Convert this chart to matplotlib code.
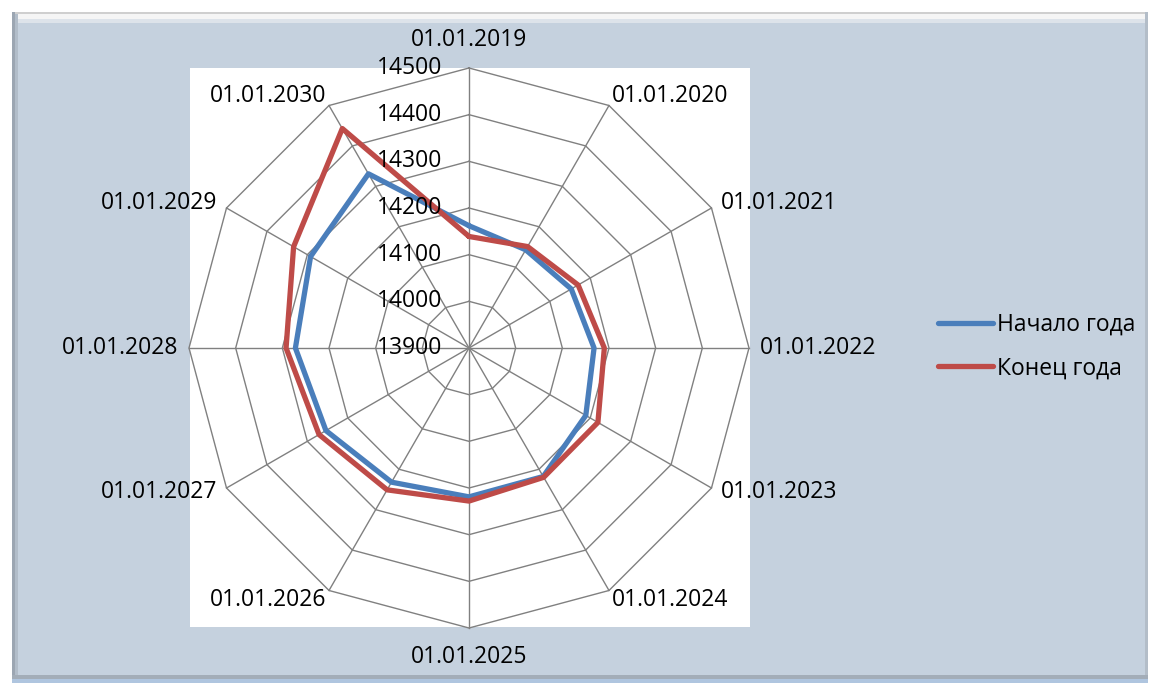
import numpy as np
import matplotlib.pyplot as plt
from matplotlib.patches import Rectangle

# categories (dates) and the two series
dates = ["01.01.2019", "01.01.2020", "01.01.2021", "01.01.2022",
         "01.01.2023", "01.01.2024", "01.01.2025", "01.01.2026",
         "01.01.2027", "01.01.2028", "01.01.2029", "01.01.2030"]
start_year = [14162, 14143, 14153, 14168, 14189, 14218,
              14219, 14232, 14254, 14272, 14292, 14331]
end_year = [14139, 14151, 14170, 14190, 14219, 14220,
            14228, 14251, 14271, 14292, 14334, 14443]
series_names = ["Начало года", "Конец года"]
r_ticks = [13900, 14000, 14100, 14200, 14300, 14400, 14500]

plt.rcParams['font.family'] = ['Open Sans', 'DejaVu Sans']
fs = 16.5
W, H = 1152, 685

fig = plt.figure(figsize=(W / 100, H / 100), dpi=100, facecolor='white')

# background panel with bevel, drawn in pixel coords
bg = fig.add_axes([0, 0, 1, 1])
bg.set_xlim(0, W)
bg.set_ylim(H, 0)
bg.axis('off')
bg.add_patch(Rectangle((12, 12), 1136, 667, facecolor='#C5D1DE', edgecolor='none'))
bg.add_patch(Rectangle((12, 12), 1136, 2, facecolor='#CFCFCF', edgecolor='none'))
bg.add_patch(Rectangle((12, 14), 1136, 5, facecolor='#F5F5F5', edgecolor='none'))
bg.add_patch(Rectangle((12, 19), 1136, 4, facecolor='#DDE3EA', edgecolor='none'))
bg.add_patch(Rectangle((12, 12), 3, 667, facecolor='#9CA6B2', edgecolor='none'))
bg.add_patch(Rectangle((15, 14), 3, 665, facecolor='#B2BDC9', edgecolor='none'))
bg.add_patch(Rectangle((1145, 12), 3, 667, facecolor='#B3BDC8', edgecolor='none'))
bg.add_patch(Rectangle((12, 675), 1136, 4, facecolor='#A3ADB8', edgecolor='none'))
bg.add_patch(Rectangle((12, 679), 1136, 4, facecolor='#AFC5DF', edgecolor='none'))
# white plot area
bg.add_patch(Rectangle((190, 68), 560, 559, facecolor='white', edgecolor='none'))

# radar
cx, cy, rad = 469, 348, 280
ax = fig.add_axes([(cx - rad) / W, (H - cy - rad) / H, 2 * rad / W, 2 * rad / H],
                  projection='polar')
ax.set_facecolor('none')
ax.set_theta_zero_location('N')
ax.set_theta_direction(-1)
ax.set_ylim(r_ticks[0], r_ticks[-1])
ax.grid(False)
ax.spines['polar'].set_visible(False)
ax.set_xticks([])
ax.set_yticks([])

n = len(dates)
theta = np.arange(n) * 2 * np.pi / n
theta_c = np.append(theta, theta[0])

grid_col = '#808080'
for r in r_ticks[1:]:
    ax.plot(theta_c, [r] * (n + 1), color=grid_col, lw=1.0, clip_on=False, zorder=1)
for t in theta:
    ax.plot([t, t], [r_ticks[0], r_ticks[-1]], color=grid_col, lw=1.0, clip_on=False, zorder=1)

for r in r_ticks:
    ax.annotate(str(r), xy=(0, r), xytext=(-27, 0), textcoords='offset pixels',
                ha='right', va='center', fontsize=fs, color='black', zorder=5)

# category labels outside the outer ring
offsets = [(0, 28, 'center'), (3, 10, 'left'), (9, 5, 'left'), (11, 0, 'left'),
           (9, -4, 'left'), (3, -10, 'left'), (0, -29, 'center'),
           (-3, -10, 'right'), (-9, -4, 'right'), (-11, 0, 'right'),
           (-9, 5, 'right'), (-3, 10, 'right')]
for t, lab, (dx, dy, ha) in zip(theta, dates, offsets):
    ax.annotate(lab, xy=(t, r_ticks[-1]), xytext=(dx, dy), textcoords='offset pixels',
                ha=ha, va='center', fontsize=fs, color='black', annotation_clip=False)

l1, = ax.plot(theta_c, start_year + start_year[:1], color='#4A7EBB', lw=3.8,
              solid_joinstyle='round', solid_capstyle='round', zorder=3, clip_on=False)
l2, = ax.plot(theta_c, end_year + end_year[:1], color='#BE4B48', lw=3.8,
              solid_joinstyle='round', solid_capstyle='round', zorder=4, clip_on=False)

fig.legend([l1, l2], series_names, loc='center left',
           bbox_to_anchor=(927 / W, 1 - 346.5 / H), frameon=False, fontsize=fs,
           borderpad=0, handlelength=2.4, handletextpad=0.15, labelspacing=0.85)

fig.savefig('out.png', dpi=100, facecolor='white')
